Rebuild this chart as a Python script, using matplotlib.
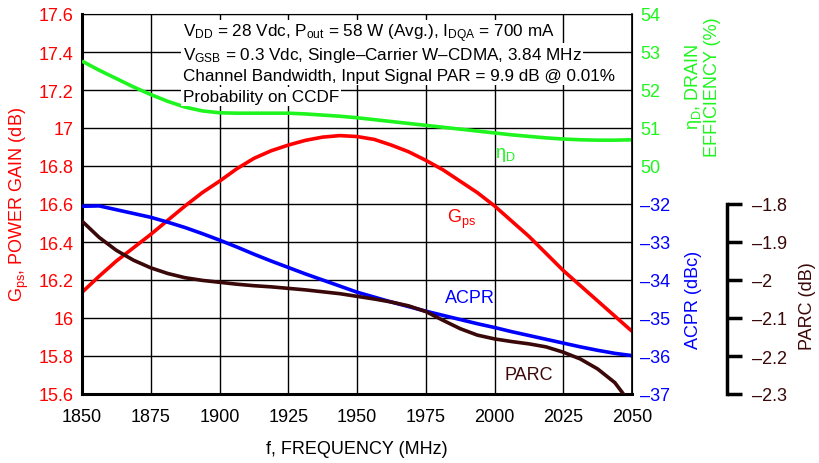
import numpy as np
import matplotlib
matplotlib.use("Agg")
import matplotlib.pyplot as plt

plt.rcParams['font.family'] = ['Liberation Sans', 'DejaVu Sans']
plt.rcParams['mathtext.fontset'] = 'custom'
plt.rcParams['mathtext.rm'] = 'Liberation Sans'
plt.rcParams['mathtext.it'] = 'Liberation Sans'

# ---- datos ----
freq = [1850, 1856.25, 1862.5, 1868.75, 1875, 1881.25, 1887.5, 1893.75, 1900,
        1906.25, 1912.5, 1918.75, 1925, 1931.25, 1937.5, 1943.75, 1950,
        1956.25, 1962.5, 1968.75, 1975, 1981.25, 1987.5, 1993.75, 2000,
        2006.25, 2012.5, 2018.75, 2025, 2031.25, 2037.5, 2043.75, 2050]
gps = [16.135, 16.22, 16.30, 16.37, 16.44, 16.515, 16.59, 16.66, 16.72,
       16.785, 16.84, 16.88, 16.91, 16.935, 16.952, 16.96, 16.955,
       16.94, 16.91, 16.875, 16.83, 16.78, 16.72, 16.66, 16.59,
       16.51, 16.43, 16.34, 16.25, 16.17, 16.09, 16.01, 15.93]
eff = [52.76, 52.52, 52.30, 52.08, 51.88, 51.70, 51.55, 51.45, 51.40,
       51.39, 51.39, 51.39, 51.39, 51.37, 51.34, 51.31, 51.27,
       51.22, 51.17, 51.12, 51.07, 51.02, 50.97, 50.92, 50.87,
       50.82, 50.78, 50.74, 50.71, 50.69, 50.68, 50.68, 50.69]
acpr = [-32.06, -32.05, -32.15, -32.25, -32.35, -32.48, -32.62, -32.78, -32.95,
        -33.13, -33.32, -33.50, -33.67, -33.84, -34.00, -34.16, -34.32,
        -34.45, -34.58, -34.70, -34.82, -34.93, -35.04, -35.15, -35.25,
        -35.36, -35.46, -35.56, -35.66, -35.76, -35.85, -35.93, -35.99]
parc = [-1.845, -1.888, -1.922, -1.948, -1.968, -1.983, -1.994, -2.001, -2.006,
        -2.011, -2.015, -2.018, -2.022, -2.026, -2.031, -2.036, -2.043,
        -2.050, -2.058, -2.068, -2.083, -2.106, -2.128, -2.145, -2.155,
        -2.162, -2.168, -2.176, -2.190, -2.208, -2.234, -2.270, -2.330]

xticks = [1850, 1875, 1900, 1925, 1950, 1975, 2000, 2025, 2050]
gps_ticks = [15.6, 15.8, 16, 16.2, 16.4, 16.6, 16.8, 17, 17.2, 17.4, 17.6]
eff_ticks = [50, 51, 52, 53, 54]
acpr_ticks = [-37, -36, -35, -34, -33, -32]
parc_ticks = [-2.3, -2.2, -2.1, -2.0, -1.9, -1.8]

RED = '#ff0000'
GREEN = '#1ef51e'
BLUE = '#0000ff'
BROWN = '#3a0808'

fig = plt.figure(figsize=(8.2, 4.64), dpi=100)
ax = fig.add_axes([82/820, 1 - 395/464, 550/820, 380/464])

def dash(v):
    s = ('%g' % v)
    return s.replace('-', '\u2013')

# eje principal: ganancia
ax.set_xlim(1850, 2050)
ax.set_ylim(15.6, 17.6)
ax.set_xticks(xticks)
ax.set_yticks(gps_ticks)
ax.set_yticklabels([dash(v) for v in gps_ticks])
ax.tick_params(axis='both', length=0, labelsize=13, pad=6)
ax.tick_params(axis='x', pad=10)
ax.tick_params(axis='y', colors=RED)
ax.tick_params(axis='x', colors='black')
ax.grid(True, color='black', lw=1)
for s in ['left', 'bottom']:
    ax.spines[s].set_linewidth(2.2)
ax.set_xlabel('f, FREQUENCY (MHz)', fontsize=13)
ax.xaxis.set_label_coords(0.5, -0.12)
ax.set_ylabel('G$_{\\mathregular{ps}}$, POWER GAIN (dB)', color=RED, fontsize=13)
ax.yaxis.set_label_coords(-0.093, 0.5)

# eficiencia
ax_eff = ax.twinx()
ax_eff.set_ylim(44, 54)
ax_eff.set_yticks(eff_ticks)
ax_eff.set_yticklabels([dash(v) for v in eff_ticks])
ax_eff.tick_params(length=0, labelsize=13, colors=GREEN, pad=6)
ax_eff.set_ylabel('\u03b7$_{\\mathregular{D}}$, DRAIN\nEFFICIENCY (%)', color=GREEN,
                  fontsize=13, linespacing=1.0)
ax_eff.yaxis.set_label_coords(1.092, 0.81)

# ACPR
ax_acpr = ax.twinx()
ax_acpr.set_ylim(-37, -27)
ax_acpr.set_yticks(acpr_ticks)
ax_acpr.set_yticklabels([dash(v) for v in acpr_ticks])
ax_acpr.tick_params(length=0, labelsize=13, colors=BLUE, pad=6)
ax_acpr.set_ylabel('ACPR (dBc)', color=BLUE, fontsize=13)
ax_acpr.yaxis.set_label_coords(1.096, 0.25)

# PARC
ax_parc = ax.twinx()
ax_parc.set_ylim(-2.3, -1.3)
ax_parc.spines['right'].set_position(('axes', (727 - 82) / 550))
ax_parc.spines['right'].set_bounds(-2.3, -1.8)
ax_parc.spines['right'].set_linewidth(2.5)
ax_parc.set_yticks(parc_ticks)
ax_parc.set_yticklabels([dash(v) for v in parc_ticks])
ax_parc.tick_params(length=11, width=2.5, labelsize=13, colors=BROWN, pad=7)
ax_parc.tick_params(axis='y', color='black')
ax_parc.set_ylabel('PARC (dB)', color=BROWN, fontsize=13)
ax_parc.yaxis.set_label_coords(1.303, 0.235)
for a in [ax_eff, ax_acpr, ax_parc]:
    for s in ['top', 'left', 'bottom']:
        a.spines[s].set_visible(False)
ax_eff.spines['right'].set_visible(False)
ax_acpr.spines['right'].set_linewidth(1.2)

# curvas
ax_eff.plot(freq, eff, color=GREEN, lw=2.6, solid_capstyle='butt')
ax.plot(freq, gps, color=RED, lw=2.6, solid_capstyle='butt')
ax_acpr.plot(freq, acpr, color=BLUE, lw=2.6, solid_capstyle='butt')
ax_parc.plot(freq, parc, color=BROWN, lw=2.6, solid_capstyle='butt')

# textos
notes = ['V$_{\\mathregular{DD}}$ = 28 Vdc, P$_{\\mathregular{out}}$ = 58 W (Avg.), I$_{\\mathregular{DQA}}$ = 700 mA',
         'V$_{\\mathregular{GSB}}$ = 0.3 Vdc, Single\u2013Carrier W\u2013CDMA, 3.84 MHz',
         'Channel Bandwidth, Input Signal PAR = 9.9 dB @ 0.01%',
         'Probability on CCDF']
ypos = [0.950, 0.893, 0.838, 0.782]
for t, yy in zip(notes, ypos):
    ax_parc.text(0.183, yy, t, transform=ax.transAxes, fontsize=12.3, va='center', ha='left',
                 bbox=dict(fc='white', ec='none', pad=1.5), zorder=5)

ax_parc.text(0.77, 0.632, '\u03b7$_{\\mathregular{D}}$', transform=ax.transAxes, color=GREEN,
             fontsize=13, ha='center', va='center')
ax_parc.text(0.69, 0.462, 'G$_{\\mathregular{ps}}$', transform=ax.transAxes, color=RED,
             fontsize=13, ha='center', va='center')
ax_parc.text(0.706, 0.255, 'ACPR', transform=ax.transAxes, color=BLUE,
             fontsize=13, ha='center', va='center')
ax_parc.text(0.812, 0.05, 'PARC', transform=ax.transAxes, color=BROWN,
             fontsize=13, ha='center', va='center')

fig.savefig('out.png', dpi=100)
